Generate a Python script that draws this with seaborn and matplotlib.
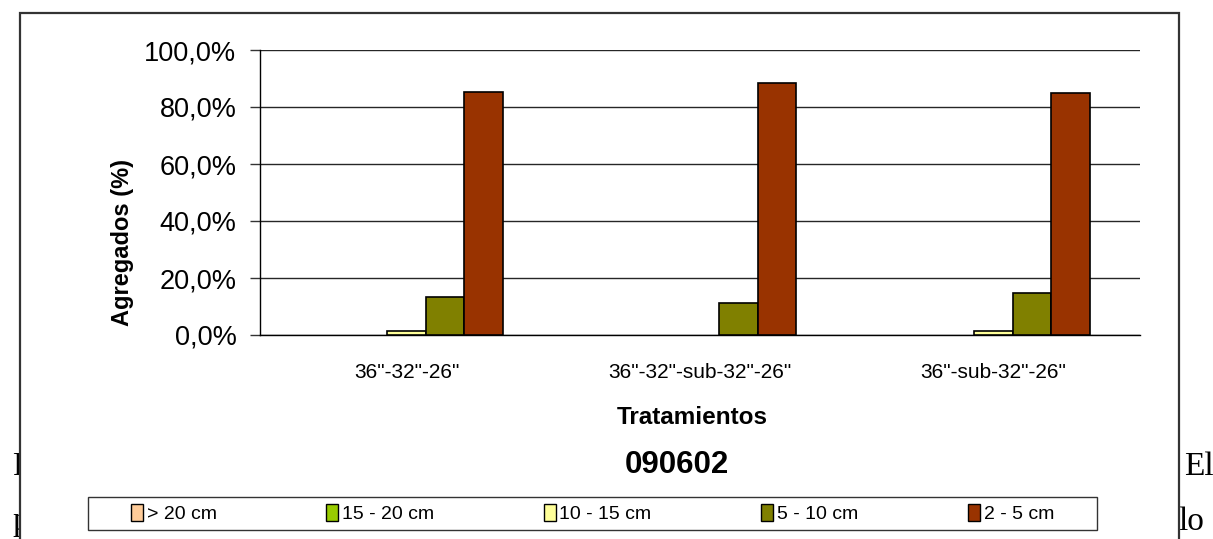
import matplotlib
matplotlib.use("Agg")
import matplotlib.pyplot as plt
from matplotlib.patches import Rectangle
from matplotlib.ticker import FuncFormatter
import seaborn as sns
import pandas as pd

# Treatments (x categories)
tratamientos = ['36"-32"-26"', '36"-32"-sub-32"-26"', '36"-sub-32"-26"']
# Aggregate size classes (series)
clases = ["> 20 cm", "15 - 20 cm", "10 - 15 cm", "5 - 10 cm", "2 - 5 cm"]
# Percentage of aggregates per size class, one list per class
mayor_20 = [0.0, 0.0, 0.0]
de_15_20 = [0.0, 0.0, 0.0]
de_10_15 = [1.4, 0.0, 1.4]
de_5_10 = [13.2, 11.1, 14.6]
de_2_5 = [85.4, 88.3, 84.9]
colores = ["#FFCC99", "#99CC00", "#FFFF99", "#808000", "#993300"]
y_ticks = [0, 20, 40, 60, 80, 100]

series = [mayor_20, de_15_20, de_10_15, de_5_10, de_2_5]
rows = []
for clase, vals in zip(clases, series):
    for trat, v in zip(tratamientos, vals):
        rows.append({"Tratamiento": trat, "Clase": clase, "Porcentaje": v})
df = pd.DataFrame(rows)

sns.set_theme(style="white")
plt.rcParams["font.family"] = ["Liberation Sans", "DejaVu Sans"]
plt.rcParams["text.color"] = "black"
plt.rcParams["axes.labelcolor"] = "black"

W, H = 1213, 539
fig = plt.figure(figsize=(W / 100, H / 100), dpi=100)
fig.patch.set_facecolor("white")

# Surrounding document text partially covered by the chart frame
serif = ["Liberation Serif", "DejaVu Serif"]
fig.text(12 / W, 1 - 475 / H, "F", fontsize=24, family=serif, zorder=-3, va="baseline")
fig.text(12 / W, 1 - 530 / H, "p", fontsize=24, family=serif, zorder=-3, va="baseline")
fig.text(1184 / W, 1 - 475 / H, "El", fontsize=24, family=serif, zorder=-3, va="baseline")
fig.text(1178 / W, 1 - 530 / H, "lo", fontsize=24, family=serif, zorder=-3, va="baseline")

# Chart frame
frame = Rectangle((20 / W, -0.05), (1179 - 20) / W, 1 - 13 / H + 0.05,
                  transform=fig.transFigure, facecolor="white",
                  edgecolor="#333333", linewidth=1.6, zorder=-1)
fig.add_artist(frame)

ax = fig.add_axes([260 / W, 1 - 335 / H, 880 / W, 285 / H])
ax.set_facecolor("none")
palette = dict(zip(clases, colores))
sns.barplot(data=df, x="Tratamiento", y="Porcentaje", hue="Clase",
            order=tratamientos, hue_order=clases, palette=palette,
            width=0.656, gap=0, saturation=1, edgecolor="black",
            linewidth=1.2, ax=ax, zorder=3)

# Empty classes leave no outline on the axis
for p in ax.patches:
    if p.get_height() == 0:
        p.set_linewidth(0)

ax.set_xlim(-0.5, 2.5)
ax.set_ylim(0, 100)
ax.set_yticks(y_ticks)
ax.yaxis.set_major_formatter(FuncFormatter(lambda v, p: f"{v:.1f}%".replace(".", ",")))
ax.grid(axis="y", color="#262626", linewidth=1.0, zorder=0)
ax.set_axisbelow(True)

for s in ["top", "right"]:
    ax.spines[s].set_visible(False)
ax.spines["left"].set_color("black")
ax.spines["left"].set_linewidth(1.0)
ax.spines["bottom"].set_color("black")
ax.spines["bottom"].set_linewidth(1.0)

ax.tick_params(axis="y", which="both", left=True, length=7, width=1.0,
               color="#333333", pad=10, labelsize=19.5, labelcolor="black")
ax.tick_params(axis="x", bottom=False, length=0, pad=20, labelsize=15,
               labelcolor="black")

ax.set_xlabel("")
ax.set_ylabel("")
fig.text(123 / W, 1 - 242 / H, "Agregados (%)", rotation=90, fontsize=17,
         fontweight="bold", ha="center", va="center")
fig.text(692 / W, 1 - 417 / H, "Tratamientos", fontsize=17.5,
         fontweight="bold", ha="center", va="center")
fig.text(677 / W, 1 - 465 / H, "090602", fontsize=22.5,
         fontweight="bold", ha="center", va="center")

handles = ax.get_legend().legend_handles
ax.get_legend().remove()
leg = fig.legend(handles, clases, loc="center",
                 bbox_to_anchor=(88 / W, 1 - 530 / H, (1097 - 88) / W, 33 / H),
                 bbox_transform=fig.transFigure, ncol=5,
                 frameon=False, fontsize=14,
                 handlelength=0.6, handleheight=0.95, handletextpad=0.2,
                 borderpad=0.3, borderaxespad=0, columnspacing=5.65)
for h in leg.legend_handles:
    h.set_edgecolor("black")
    h.set_linewidth(1.0)

# Legend box spanning the chart width
legend_box = Rectangle((88 / W, 1 - 530 / H), (1097 - 88) / W, 33 / H,
                       transform=fig.transFigure, facecolor="none",
                       edgecolor="#333333", linewidth=1.0, zorder=2)
fig.add_artist(legend_box)

fig.savefig("out.png", dpi=100, facecolor="white")
